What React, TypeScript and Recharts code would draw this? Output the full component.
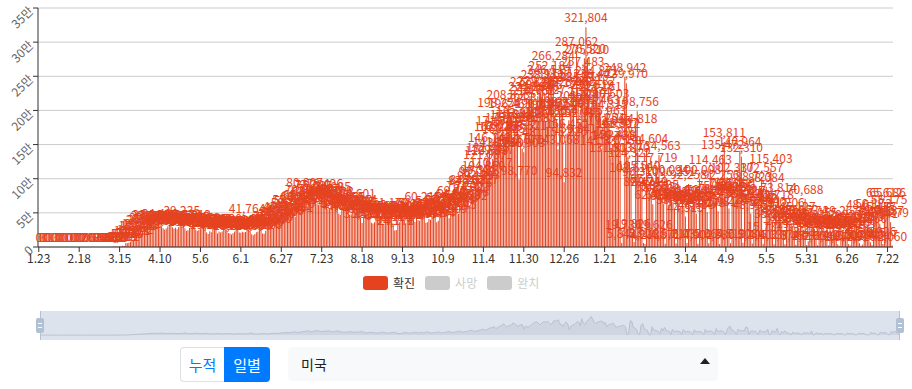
import React from 'react';
import { BarChart, Bar, XAxis, YAxis, CartesianGrid, LabelList, AreaChart, Area } from 'recharts';

// 미국 일별 확진자 (2020.1.23 ~ 2021.7.25)
const jan2020 = [0, 1, 0, 3, 0, 0, 0, 1, 1];
const feb2020 = [1, 0, 3, 0, 0, 0, 0, 0, 0, 1, 0, 0, 1, 0, 0, 0, 0, 0, 0, 0, 2, 0, 0, 36, 0, 0, 0, 1, 8];
const mar2020 = [7, 23, 20, 31, 68, 45, 140, 116, 65, 376, 322, 382, 516, 548, 772, 1133, 1789, 1362, 5894, 5423, 6389, 7787, 10571, 9893, 12042, 18058, 17821, 19821, 19408, 20922, 26341];
const apr2020 = [26473, 29874, 32284, 33264, 28200, 29595, 31709, 32449, 34037, 34480, 30003, 27421, 25316, 27051, 30148, 31667, 32165, 29057, 26543, 28123, 25985, 29285, 31673, 39235, 33673, 27327, 23958, 24350, 27837, 30185];
const may2020 = [33912, 29078, 25501, 23335, 24976, 26252, 29368, 28363, 26175, 21329, 19196, 23048, 21782, 27246, 26050, 24994, 19937, 22630, 21289, 22829, 27720, 25232, 23473, 20607, 19608, 18263, 20049, 22580, 25266, 24809, 21350];
const jun2020 = [20874, 22500, 21200, 22100, 41764, 25000, 22700, 18700, 17300, 19000, 21700, 22800, 26300, 25600, 19900, 19300, 23900, 26100, 28500, 31900, 32400, 27300, 30100, 35600, 38100, 38700, 45300, 43400, 40900, 39100];
const jul2020 = [46042, 50700, 55274, 54904, 47511, 44361, 49990, 60021, 61848, 63259, 70014, 80907, 60465, 59222, 67404, 68518, 77299, 75687, 71484, 62879, 61796, 64282, 71967, 69150, 78426, 67981, 55187, 56130, 63642, 74985, 68998];
const aug2020 = [67023, 58407, 48622, 47190, 54815, 53158, 58456, 59655, 54020, 46935, 48088, 51988, 55910, 52050, 64601, 55264, 43108, 35112, 44091, 46437, 44023, 48693, 44083, 35602, 34567, 36379, 44138, 45925, 46885, 44042, 34340];
const sep2020 = [34113, 42036, 39849, 43943, 51170, 42696, 31114, 24179, 24776, 34156, 36085, 47306, 41460, 34322, 34778, 39112, 40123, 45467, 49264, 42355, 36474, 51623, 39228, 38567, 44868, 60215, 47104, 35397, 36238, 41387];
const oct2020 = [39936, 44940, 54402, 49497, 36094, 38363, 43814, 49849, 55798, 58567, 54313, 47122, 42009, 52356, 59445, 64368, 69477, 57371, 48445, 58388, 61153, 63133, 76202, 83757, 84218, 61202, 66798, 74323, 79976, 90155, 97080];
const nov2020 = [99321, 84227, 92293, 104860, 121087, 126888, 131485, 146742, 110017, 129337, 141274, 162270, 171541, 198224, 163265, 138860, 160325, 166045, 175935, 208833, 196465, 179843, 144270, 170323, 177852, 182911, 98770, 155481, 143570, 138903];
const dec2020 = [163521, 181426, 204316, 221283, 227828, 214762, 176385, 196214, 220946, 229467, 224375, 238112, 216027, 183422, 196872, 246519, 252184, 239581, 266284, 193021, 186354, 143068, 199773, 227154, 196540, 94832, 155220, 166452, 185774, 199357, 234129];
const jan2021 = [228962, 159841, 287062, 208414, 182915, 235711, 257483, 276520, 321804, 275810, 213974, 204377, 223519, 230182, 239442, 244871, 201463, 221161, 141837, 176254, 185963, 194315, 210503, 172046, 131503, 149761, 150438, 155209, 168867, 166912, 141550];
const feb2021 = [5841, 19736, 248942, 239970, 131870, 124322, 102610, 19826, 7231, 174818, 198756, 105540, 96310, 82474, 5926, 4213, 144604, 87013, 82219, 76355, 62480, 19626, 117719, 74522, 134563, 78105, 71928, 63284];
const mar2021 = [4871, 100094, 61927, 66802, 68410, 63355, 55902, 5217, 96251, 57408, 59633, 64980, 58204, 44515, 6032, 92258, 55316, 59871, 61740, 60925, 48603, 4902, 100008, 54370, 69441, 70123, 66890, 51278, 5664, 114463, 63772];
const apr2021 = [68210, 75438, 71966, 52381, 4380, 92256, 135472, 153811, 79832, 78566, 56214, 5519, 102337, 74926, 75185, 79480, 71643, 140964, 132310, 6208, 66014, 69325, 68117, 63820, 48903, 5106, 88723, 55910, 58407, 62135];
const may2021 = [57442, 102557, 4902, 15731, 88084, 52390, 49612, 115403, 35215, 4137, 62718, 38920, 73814, 40556, 36112, 24538, 3874, 51206, 31405, 33782, 35119, 30614, 19886, 3452, 45127, 27306, 40852, 29714, 25203, 70688, 2981];
const jun2021 = [8410, 39774, 27216, 25502, 26417, 21338, 2604, 36155, 23872, 24430, 26227, 20815, 9327, 2215, 33208, 21946, 22502, 24873, 19341, 4118, 1873, 39267, 20780, 21905, 25221, 19148, 4506, 2317, 30415, 23603];
const jul2021 = [27862, 29417, 21209, 5318, 1926, 3704, 48611, 30935, 33108, 27460, 6815, 2748, 50173, 38902, 41246, 45177, 34541, 8926, 4317, 65612, 40137, 65686, 55175, 36379, 2060];

const confirmed = [
  ...jan2020, ...feb2020, ...mar2020, ...apr2020, ...may2020, ...jun2020,
  ...jul2020, ...aug2020, ...sep2020, ...oct2020, ...nov2020, ...dec2020,
  ...jan2021, ...feb2021, ...mar2021, ...apr2021, ...may2021, ...jun2021, ...jul2021,
];

const yTicks = [0, 50000, 100000, 150000, 200000, 250000, 300000, 350000];
const legendItems = [
  { name: '확진', color: '#e5431f', active: true },
  { name: '사망', color: '#ccc', active: false },
  { name: '완치', color: '#ccc', active: false },
];

// categories: one per day starting 2020-01-23, shown as M.D
const data = confirmed.map((v, i) => {
  const d = new Date(Date.UTC(2020, 0, 23 + i));
  return { date: `${d.getUTCMonth() + 1}.${d.getUTCDate()}`, confirmed: v };
});

const RED = '#e5431f';
const FONT = '"Noto Sans CJK KR", "Noto Sans", sans-serif';

const fmtY = (v: number) => (v === 0 ? '0' : `${v / 10000}만`);

const YTick = (props: any) => {
  const { x, y, payload } = props;
  const ax = x + 3;
  const ay = y + 4;
  return (
    <text x={ax} y={ay} transform={`rotate(-45 ${ax} ${ay})`} textAnchor="end" fontSize={12} fill="#666" fontFamily={FONT}>
      {fmtY(payload.value)}
    </text>
  );
};

// zero-height bars get dropped from the label list, so give them a hairline
const minSize = (v: any) => (Number(v) === 0 ? 0.01 : 0);

const App = () => {
  return (
    <div style={{ position: 'absolute', left: 0, top: 0, width: 912, height: 389, background: '#fff', fontFamily: FONT }}>
      <BarChart
        width={912}
        height={270}
        data={data}
        margin={{ top: 8, right: 19, left: 0, bottom: 0 }}
        barCategoryGap="15%"
      >
        <CartesianGrid vertical={false} stroke="#ccc" />
        <XAxis
          dataKey="date"
          interval={25}
          height={23}
          tickSize={5}
          tick={{ fontSize: 12, fill: '#333', fontFamily: FONT }}
          tickLine={{ stroke: '#333' }}
          axisLine={{ stroke: '#333' }}
        />
        <YAxis
          type="number"
          width={38}
          domain={[0, 350000]}
          ticks={yTicks}
          interval={0}
          tickSize={5}
          tick={<YTick />}
          tickLine={{ stroke: '#333' }}
          axisLine={{ stroke: '#333' }}
        />
        <Bar dataKey="confirmed" fill={RED} minPointSize={minSize} isAnimationActive={false}>
          <LabelList
            dataKey="confirmed"
            position="top"
            offset={5}
            fill={RED}
            fontSize={12}
            fontFamily={FONT}
            formatter={(v: any) => Number(v).toLocaleString('en-US')}
          />
        </Bar>
      </BarChart>

      {/* legend */}
      <div style={{ position: 'absolute', top: 276, left: 363, display: 'flex', alignItems: 'center', height: 14 }}>
        {legendItems.map((it, k) => (
          <div key={it.name} style={{ display: 'flex', alignItems: 'center', marginRight: k < 2 ? 10 : 0 }}>
            <div style={{ width: 25, height: 14, borderRadius: 3, background: it.color }} />
            <span style={{ marginLeft: 5, fontSize: 12, color: it.active ? '#333' : '#ccc', lineHeight: '14px' }}>{it.name}</span>
          </div>
        ))}
      </div>

      {/* data zoom slider */}
      <div style={{ position: 'absolute', left: 40, top: 311, width: 860, height: 29, background: '#dde3ec', borderLeft: '1px solid #b6c2d2', borderRight: '1px solid #b6c2d2', boxSizing: 'border-box', overflow: 'hidden' }}>
        <AreaChart width={858} height={29} data={data} margin={{ top: 0, right: 0, left: 0, bottom: 0 }}>
          <XAxis dataKey="date" hide />
          <YAxis hide domain={[-85000, 418000]} />
          <Area type="linear" dataKey="confirmed" stroke="#b9c2d1" strokeWidth={1} fill="#cfd6e1" fillOpacity={1} dot={false} isAnimationActive={false} />
        </AreaChart>
      </div>
      {[40, 900].map((hx) => (
        <div key={hx} style={{ position: 'absolute', left: hx - 4, top: 318, width: 8, height: 15, background: '#b2c0d4', borderRadius: 2 }}>
          <div style={{ position: 'absolute', left: 2, top: 5, width: 4, height: 1, background: '#fff' }} />
          <div style={{ position: 'absolute', left: 2, top: 9, width: 4, height: 1, background: '#fff' }} />
        </div>
      ))}

      {/* controls */}
      <div style={{ position: 'absolute', left: 180, top: 347, height: 35, display: 'flex' }}>
        <div style={{ width: 44, height: 35, boxSizing: 'border-box', border: '1px solid #dee2e6', borderRight: 'none', borderRadius: '4px 0 0 4px', color: '#007bff', fontSize: 15, display: 'flex', alignItems: 'center', justifyContent: 'center' }}>누적</div>
        <div style={{ width: 46, height: 35, background: '#007bff', borderRadius: '0 4px 4px 0', color: '#fff', fontSize: 15, display: 'flex', alignItems: 'center', justifyContent: 'center' }}>일별</div>
      </div>
      <div style={{ position: 'absolute', left: 288, top: 347, width: 430, height: 34, background: '#f8f9fa', borderRadius: 4, display: 'flex', alignItems: 'center' }}>
        <span style={{ marginLeft: 13, fontSize: 14, color: '#222' }}>미국</span>
        <span style={{ position: 'absolute', right: 8, top: 11, width: 0, height: 0, borderLeft: '5px solid transparent', borderRight: '5px solid transparent', borderBottom: '6px solid #222' }} />
      </div>
    </div>
  );
};

export default App;
